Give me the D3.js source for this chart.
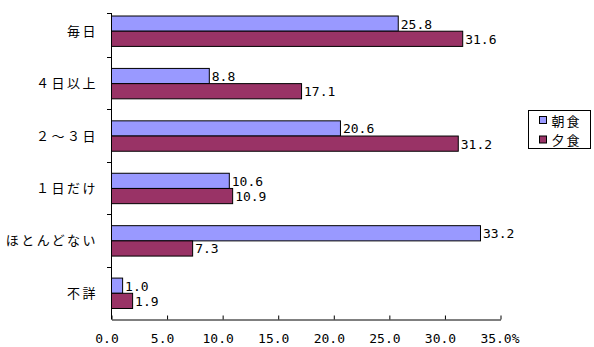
<!DOCTYPE html>
<html>
<head>
<meta charset="utf-8">
<script src="https://cdn.jsdelivr.net/npm/d3@7"></script>
<style>
  body { margin: 0; background: #fff; }
  svg { display: block; }
</style>
</head>
<body>
<div id="chart"></div>
<script>
// data
var categories = ["毎日", "４日以上", "２～３日", "１日だけ", "ほとんどない", "不詳"];
var seriesNames = ["朝食", "夕食"];
var breakfast = [25.8, 8.8, 20.6, 10.6, 33.2, 1.0];
var dinner = [31.6, 17.1, 31.2, 10.9, 7.3, 1.9];
var xTicks = [0, 5, 10, 15, 20, 25, 30, 35];
var colors = ["#9999FF", "#993366"];

var svgWidth = 594;
var svgHeight = 347;
var jpFont = "'Noto Sans CJK JP', sans-serif";
var numFont = "'DejaVu Sans Mono', monospace";

var svg = d3.select("#chart")
  .append("svg")
  .attr("width", svgWidth)
  .attr("height", svgHeight);

var rows = categories.map(function(c, i) {
  return {cat: c, values: [breakfast[i], dinner[i]]};
});

// scales
var x = d3.scaleLinear().domain([0, 35]).range([111, 500]);
var y = d3.scaleBand().domain(categories).range([4.5, 319]).padding(0);
var ySub = d3.scaleBand().domain(seriesNames)
  .range([y.bandwidth() * 0.21, y.bandwidth() * 0.79]).padding(0);

var axisTop = 13;
var axisBottom = 319;

// bars
var groups = svg.selectAll("g.cat")
  .data(rows)
  .enter()
  .append("g")
  .attr("class", "cat")
  .attr("transform", d => `translate(0, ${y(d.cat)})`);

groups.selectAll("rect")
  .data(d => d.values.map((v, j) => ({name: seriesNames[j], value: v, j: j})))
  .enter()
  .append("rect")
  .attr("x", x(0) + 0.5)
  .attr("y", d => ySub(d.name) + 0.5)
  .attr("width", d => x(d.value) - x(0))
  .attr("height", ySub.bandwidth())
  .attr("fill", d => colors[d.j])
  .attr("stroke", "#000")
  .attr("stroke-width", 1);

// value labels
groups.selectAll("text.val")
  .data(d => d.values.map((v, j) => ({name: seriesNames[j], value: v})))
  .enter()
  .append("text")
  .attr("class", "val")
  .attr("x", d => x(d.value) + 3)
  .attr("y", d => ySub(d.name) + ySub.bandwidth() / 2 + 1)
  .attr("dominant-baseline", "central")
  .style("font-family", numFont)
  .style("font-size", "13px")
  .text(d => d.value.toFixed(1));

// y axis line and ticks at band boundaries
svg.append("line")
  .attr("x1", x(0) + 0.5).attr("x2", x(0) + 0.5)
  .attr("y1", axisTop).attr("y2", axisBottom + 0.5)
  .attr("stroke", "#000");

var tickYs = [axisTop].concat(categories.slice(1).map(c => y(c)));
svg.selectAll("line.ytick")
  .data(tickYs)
  .enter()
  .append("line")
  .attr("class", "ytick")
  .attr("x1", x(0) - 4).attr("x2", x(0))
  .attr("y1", d => Math.round(d) + 0.5)
  .attr("y2", d => Math.round(d) + 0.5)
  .attr("stroke", "#000");

// category labels
svg.selectAll("text.cat")
  .data(categories)
  .enter()
  .append("text")
  .attr("class", "cat")
  .attr("x", 98)
  .attr("y", d => y(d) + y.bandwidth() / 2 - 0.5)
  .attr("text-anchor", "end")
  .attr("dominant-baseline", "central")
  .style("font-family", jpFont)
  .style("font-size", "13px")
  .style("letter-spacing", "2.5px")
  .text(d => d);

// x axis
var xAxis = d3.axisBottom(x)
  .tickValues(xTicks)
  .tickSizeInner(-4)
  .tickSizeOuter(0)
  .tickFormat("");

var xg = svg.append("g")
  .attr("transform", `translate(0.5, ${axisBottom + 0.5})`)
  .call(xAxis);
xg.select(".domain").attr("stroke", "#000");
xg.selectAll(".tick line").attr("stroke", "#000");

var charW = 7.8;
svg.selectAll("text.xlab")
  .data(xTicks)
  .enter()
  .append("text")
  .attr("class", "xlab")
  .attr("x", d => x(d) - 4 - d.toFixed(1).length * charW / 2)
  .attr("y", 338)
  .attr("dominant-baseline", "central")
  .style("font-family", numFont)
  .style("font-size", "13px")
  .text((d, i) => d.toFixed(1) + (i === xTicks.length - 1 ? "%" : ""));

// legend
var legend = svg.append("g").attr("transform", "translate(528.5, 110.5)");
legend.append("rect")
  .attr("width", 62).attr("height", 38)
  .attr("fill", "#fff").attr("stroke", "#000");

var items = legend.selectAll("g.item")
  .data(seriesNames)
  .enter()
  .append("g")
  .attr("class", "item")
  .attr("transform", (d, i) => `translate(0, ${9.5 + i * 19.5})`);

items.append("rect")
  .attr("x", 11).attr("y", -3.5)
  .attr("width", 7).attr("height", 7)
  .attr("fill", (d, i) => colors[i])
  .attr("stroke", "#000");

items.append("text")
  .attr("x", 23)
  .attr("y", 0)
  .attr("dominant-baseline", "central")
  .style("font-family", jpFont)
  .style("font-size", "13px")
  .style("letter-spacing", "2px")
  .text(d => d);
</script>
</body>
</html>
